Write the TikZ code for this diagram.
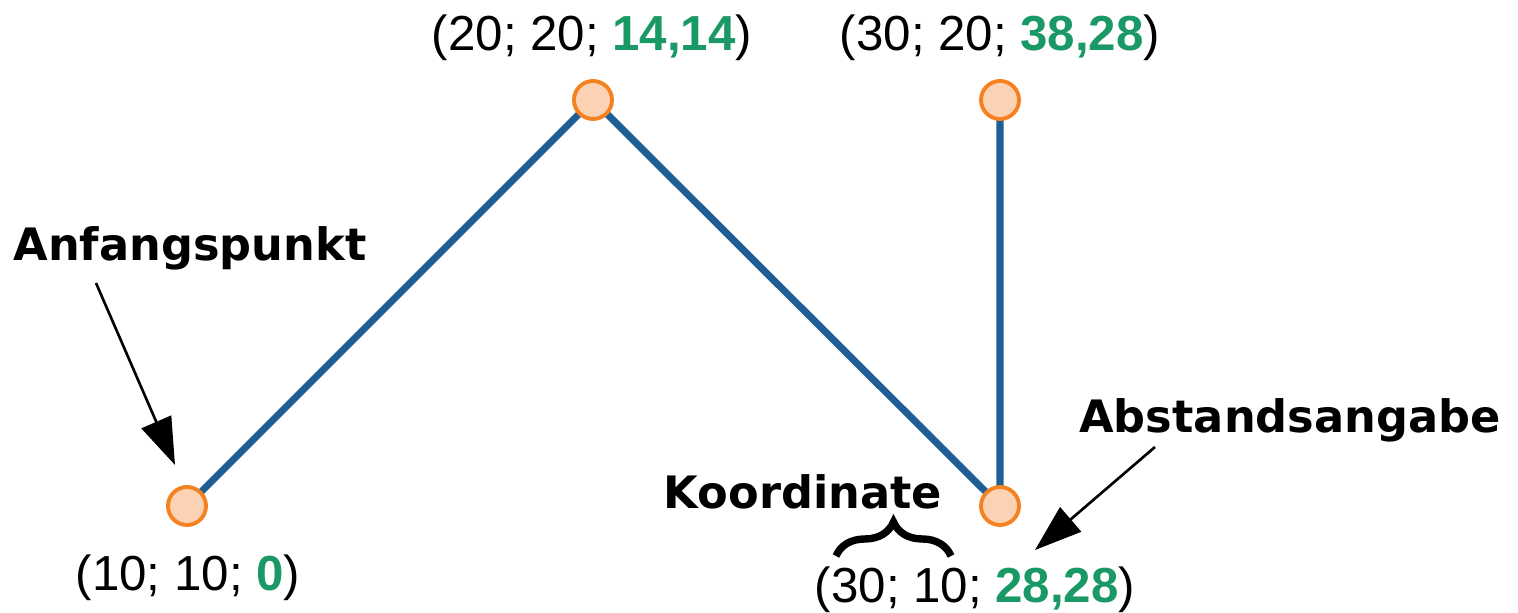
\documentclass[tikz,border=0pt]{standalone}
\usepackage{fontspec}
\setmainfont{Liberation Sans}
\newfontfamily\hinweisfont{DejaVu Sans}
\usetikzlibrary{arrows.meta,decorations.pathreplacing}

\definecolor{linie}{HTML}{1F5F96}
\definecolor{punktrand}{HTML}{F58220}
\definecolor{punktfill}{HTML}{FBD3B4}
\definecolor{abstand}{HTML}{1A9966}

\newcommand{\abst}[1]{\textcolor{abstand}{\textbf{#1}}}

\begin{document}
\begin{tikzpicture}[x=0.01cm,y=-0.01cm,
    punkt/.style={circle,draw=punktrand,fill=punktfill,line width=1.1pt,
      minimum size=0.38cm,inner sep=0pt},
    koord/.style={font=\fontsize{14}{16}\selectfont},
    hinweis/.style={font=\hinweisfont\bfseries\fontsize{12.7}{15}\selectfont},
    zeiger/.style={line width=0.75pt,-{Triangle[length=0.47cm,width=0.32cm]}}]
  % page frame
  \useasboundingbox (0,0) rectangle (1518,613);

  % polygon vertices
  \coordinate (A) at (187,506);
  \coordinate (B) at (593,100);
  \coordinate (C) at (1000,100);
  \coordinate (D) at (1000,506);

  % polyline
  \draw[linie,line width=2pt] (A) -- (B) -- (D) -- (C);

  % points
  \node[punkt] (pA) at (A) {};
  \node[punkt] (pB) at (B) {};
  \node[punkt] (pC) at (C) {};
  \node[punkt] (pD) at (D) {};

  % coordinates with distance
  \node[koord] (lA) at (188,578) {(10; 10; \abst{0})};
  \node[koord] (lB) at (592,38)  {(20; 20; \abst{14,14})};
  \node[koord] (lC) at (1000,38) {(30; 20; \abst{38,28})};
  \node[koord] (lD) at (975,590) {(30; 10; \abst{28,28})};

  % annotations
  \node[hinweis] (anf) at (190,248)  {Anfangspunkt};
  \node[hinweis] (kor) at (803,492)  {Koordinate};
  \node[hinweis] (abs) at (1290,420) {Abstandsangabe};

  \coordinate (anfS) at (96,283);
  \coordinate (anfE) at (175,465);
  \draw[zeiger] (anfS) -- (anfE);

  \coordinate (absS) at (1155,447);
  \coordinate (absE) at (1035,550);
  \draw[zeiger] (absS) -- (absE);

  % brace under "Koordinate"
  \coordinate (brL) at (836,556);
  \coordinate (brR) at (951,556);
  \draw[line width=2.1pt,decorate,decoration={brace,amplitude=0.34cm}] (brL) -- (brR);
\end{tikzpicture}
\end{document}
